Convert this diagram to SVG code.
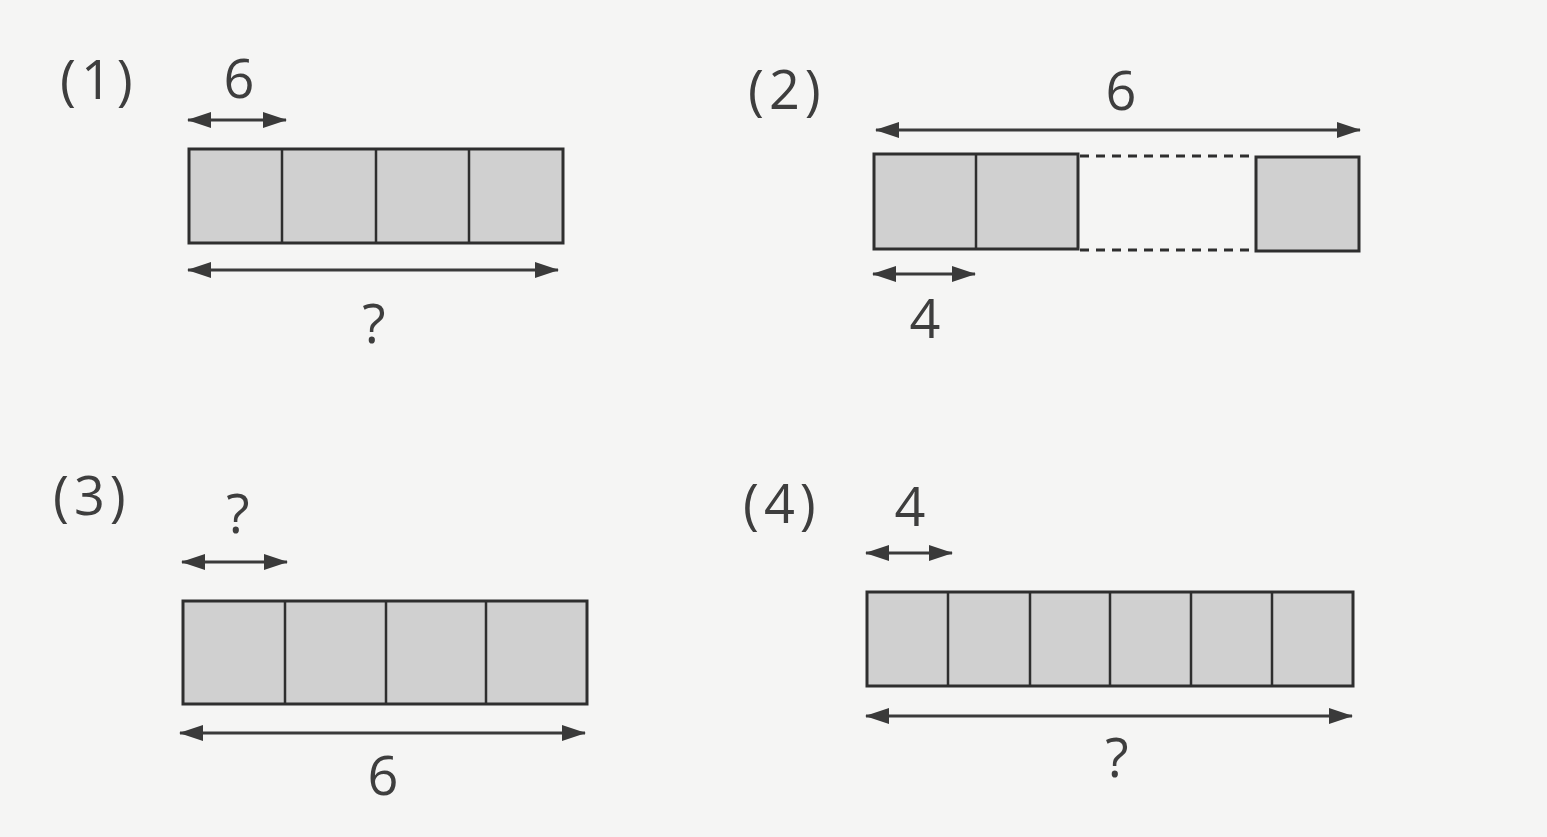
<svg xmlns="http://www.w3.org/2000/svg" width="1547" height="837" viewBox="0 0 1547 837">
<defs>
<marker id="ah" viewBox="0 0 24 16" refX="23" refY="8" markerWidth="24" markerHeight="16" markerUnits="userSpaceOnUse" orient="auto-start-reverse">
<path d="M0,0 L24,8 L0,16 Z" fill="#3a3a3a"/>
</marker>
</defs>
<style>
.bg{fill:#f5f5f4}
.cell{fill:#d0d0d0;stroke:#2e2e2e;stroke-width:3}
.div{stroke:#2e2e2e;stroke-width:2.5}
.dash{stroke:#2e2e2e;stroke-width:3;stroke-dasharray:9 7}
.arr{stroke:#3a3a3a;stroke-width:3;fill:none;marker-start:url(#ah);marker-end:url(#ah)}
.t{font-family:"Open Sans","Noto Sans",sans-serif;fill:#3e3e3e;font-size:54px;font-weight:500}
.lb{letter-spacing:5px}
.m{text-anchor:middle}
</style>
<rect class="bg" x="0" y="0" width="1547" height="837"/>

<g id="p1">
<text class="t lb" x="60" y="99">(1)</text>
<text class="t m" x="239" y="98">6</text>
<rect class="cell" x="189" y="149" width="374" height="94"/>
<line class="div" x1="282" y1="149" x2="282" y2="243"/>
<line class="div" x1="376" y1="149" x2="376" y2="243"/>
<line class="div" x1="469" y1="149" x2="469" y2="243"/>
<text class="t m" x="374" y="343">?</text>
</g>

<g id="p2">
<text class="t lb" x="748" y="109">(2)</text>
<text class="t m" x="1121" y="110">6</text>
<rect class="cell" x="874" y="154" width="204" height="95"/>
<line class="div" x1="976" y1="154" x2="976" y2="249"/>
<line class="dash" x1="1080" y1="156" x2="1255" y2="156"/>
<line class="dash" x1="1080" y1="250" x2="1255" y2="250"/>
<rect class="cell" x="1256" y="157" width="103" height="94"/>
<text class="t m" x="925" y="338">4</text>
</g>

<g id="p3">
<text class="t lb" x="53" y="515">(3)</text>
<text class="t m" x="238" y="533">?</text>
<rect class="cell" x="183" y="601" width="404" height="103"/>
<line class="div" x1="285" y1="601" x2="285" y2="704"/>
<line class="div" x1="386" y1="601" x2="386" y2="704"/>
<line class="div" x1="486" y1="601" x2="486" y2="704"/>
<text class="t m" x="383" y="795">6</text>
</g>

<g id="p4">
<text class="t lb" x="743" y="523">(4)</text>
<text class="t m" x="910" y="526">4</text>
<rect class="cell" x="867" y="592" width="486" height="94"/>
<line class="div" x1="948" y1="592" x2="948" y2="686"/>
<line class="div" x1="1030" y1="592" x2="1030" y2="686"/>
<line class="div" x1="1110" y1="592" x2="1110" y2="686"/>
<line class="div" x1="1191" y1="592" x2="1191" y2="686"/>
<line class="div" x1="1272" y1="592" x2="1272" y2="686"/>
<text class="t m" x="1117" y="777">?</text>
</g>

<g id="connectors">
<line class="arr" x1="188" y1="120" x2="286" y2="120"/>
<line class="arr" x1="188" y1="270" x2="558" y2="270"/>
<line class="arr" x1="876" y1="130" x2="1360" y2="130"/>
<line class="arr" x1="873" y1="274" x2="975" y2="274"/>
<line class="arr" x1="182" y1="562" x2="287" y2="562"/>
<line class="arr" x1="180" y1="733" x2="585" y2="733"/>
<line class="arr" x1="866" y1="553" x2="952" y2="553"/>
<line class="arr" x1="866" y1="716" x2="1352" y2="716"/>
</g>
</svg>
